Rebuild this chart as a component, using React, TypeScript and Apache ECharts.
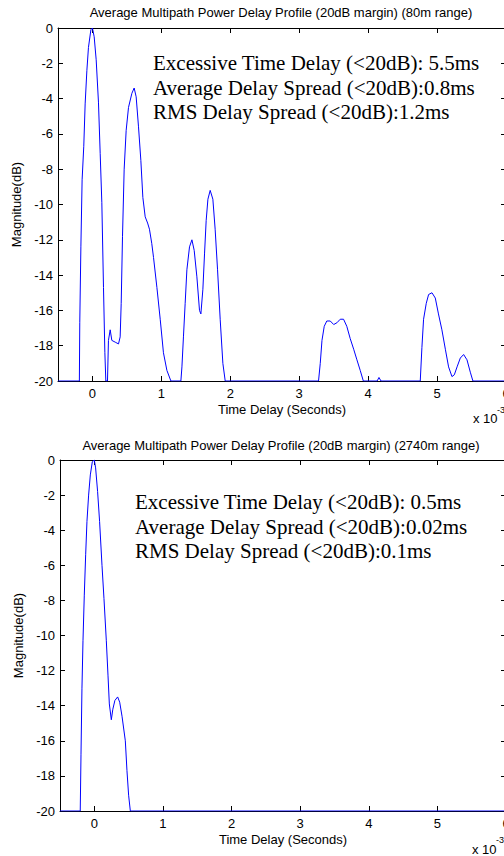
import React, { useEffect, useRef } from "react";
import * as echarts from "echarts";

// Tick values (x in units of 1e-3 s, y in dB)
const xTickValues = [0, 1, 2, 3, 4, 5, 6];
const yMin = -20;
const yMax = 0;
const yStep = 2;

const titles = [
  "Average Multipath Power Delay Profile (20dB margin) (80m range)",
  "Average Multipath Power Delay Profile (20dB margin) (2740m range)",
];
const xName = "Time Delay (Seconds)";
const yName = "Magnitude(dB)";

const notesTop = [
  "Excessive Time Delay (<20dB): 5.5ms",
  "Average Delay Spread (<20dB):0.8ms",
  "RMS Delay Spread (<20dB):1.2ms",
];
const notesBottom = [
  "Excessive Time Delay (<20dB): 0.5ms",
  "Average Delay Spread (<20dB):0.02ms",
  "RMS Delay Spread (<20dB):0.1ms",
];

// 80m range profile: [delay (x1e-3 s), magnitude dB]
const profile80m: [number, number][] = [
  [-0.5, -20], [-0.19, -20], [-0.184, -16.7], [-0.168, -12.4], [-0.15, -8.6], [-0.126, -6.7],
  [-0.106, -4.3], [-0.081, -2.4], [-0.058, -1.1], [-0.023, -0.1], [0, 0], [0.025, -0.5],
  [0.054, -1.8], [0.087, -4.2], [0.112, -7.1], [0.136, -9.9], [0.16, -14.7], [0.18, -18.4],
  [0.194, -20], [0.218, -20], [0.232, -17.7], [0.257, -17.1], [0.281, -17.7], [0.33, -17.8],
  [0.378, -17.9], [0.402, -17.5], [0.417, -15.6], [0.436, -11.8], [0.46, -8.0], [0.489, -5.8],
  [0.523, -4.5], [0.572, -3.7], [0.605, -3.4], [0.634, -3.9], [0.668, -5.6], [0.702, -7.5],
  [0.731, -9.6], [0.765, -10.7], [0.8, -11.05], [0.827, -11.4], [0.86, -12.2], [0.886, -13.0],
  [0.935, -14.7], [0.983, -16.5], [1.03, -18.4], [1.08, -19.4], [1.138, -20], [1.283, -20],
  [1.298, -19.2], [1.32, -17.5], [1.345, -15.6], [1.37, -13.7], [1.408, -12.4], [1.443, -12.0],
  [1.476, -12.6], [1.515, -14.1], [1.553, -16.0], [1.573, -16.2], [1.602, -14.8], [1.626, -12.8],
  [1.65, -10.9], [1.675, -9.7], [1.708, -9.2], [1.747, -9.7], [1.78, -11.4], [1.815, -13.7],
  [1.853, -16.5], [1.892, -19.0], [1.926, -20], [3.28, -20], [3.305, -19.0], [3.33, -17.7],
  [3.363, -16.9], [3.4, -16.6], [3.45, -16.6], [3.5, -16.8], [3.547, -16.7], [3.595, -16.5],
  [3.643, -16.5], [3.69, -16.9], [3.74, -17.6], [3.79, -18.2], [3.837, -18.8], [3.885, -19.4],
  [3.93, -20], [4.13, -20], [4.157, -19.8], [4.186, -20], [4.756, -20], [4.78, -18.1],
  [4.804, -16.5], [4.843, -15.6], [4.877, -15.1], [4.926, -15.0], [4.974, -15.3], [5.02, -16.2],
  [5.07, -17.1], [5.12, -18.2], [5.167, -19.2], [5.216, -19.75], [5.25, -19.65], [5.29, -19.2],
  [5.337, -18.7], [5.385, -18.5], [5.434, -18.8], [5.482, -19.5], [5.52, -20], [6, -20],
];

// 2740m range profile
const profile2740m: [number, number][] = [
  [-0.5, -20], [-0.205, -20], [-0.194, -16.8], [-0.18, -13.0], [-0.165, -10.3], [-0.146, -7.7],
  [-0.126, -5.4], [-0.107, -3.5], [-0.083, -2.0], [-0.058, -0.85], [-0.029, -0.1], [0, 0],
  [0.019, -0.45], [0.048, -1.8], [0.077, -3.5], [0.112, -6.0], [0.141, -7.9], [0.175, -10.3],
  [0.2, -12.3], [0.219, -13.9], [0.248, -14.8], [0.27, -14.2], [0.3, -13.7], [0.34, -13.5],
  [0.37, -13.8], [0.404, -14.6], [0.452, -16.0], [0.476, -17.7], [0.5, -19.1], [0.525, -20],
  [6, -20],
];

const SANS = "'Liberation Sans', Arial, sans-serif";
const SERIF = "'Liberation Serif', 'Times New Roman', serif";
const FS = 13;

export default function App() {
  const ref = useRef<HTMLDivElement>(null);
  useEffect(() => {
    if (!ref.current) return;
    const chart = echarts.init(ref.current, undefined, { renderer: "svg" });

    const grids = [
      { left: 58, top: 28, width: 448, height: 353, outerBoundsMode: "none", containLabel: false },
      { left: 60, top: 460, width: 446, height: 351, outerBoundsMode: "none", containLabel: false },
    ];

    const lineStyle = { color: "#000", width: 1 };
    const xAxes: any[] = [];
    const yAxes: any[] = [];
    grids.forEach((_, gi) => {
      xAxes.push({
        type: "value", gridIndex: gi, position: "bottom", min: -0.5, max: 6,
        name: xName, nameLocation: "middle", nameGap: 22,
        nameTextStyle: { fontFamily: SANS, fontSize: FS, color: "#000" },
        axisLine: { show: true, onZero: false, lineStyle },
        axisTick: { show: true, inside: true, length: 5, customValues: xTickValues, lineStyle },
        axisLabel: { show: true, customValues: xTickValues, margin: 6, fontFamily: SANS, fontSize: FS, color: "#000" },
        splitLine: { show: false },
      });
      xAxes.push({
        type: "value", gridIndex: gi, position: "top", min: -0.5, max: 6,
        axisLine: { show: true, onZero: false, lineStyle },
        axisTick: { show: true, inside: true, length: 5, customValues: xTickValues, lineStyle },
        axisLabel: { show: false },
        splitLine: { show: false },
      });
      yAxes.push({
        type: "value", gridIndex: gi, position: "left", min: yMin, max: yMax, interval: yStep,
        name: yName, nameLocation: "middle", nameGap: 34, nameRotate: 90,
        nameTextStyle: { fontFamily: SANS, fontSize: FS, color: "#000" },
        axisLine: { show: true, onZero: false, lineStyle },
        axisTick: { show: true, inside: true, length: 5, lineStyle },
        axisLabel: { show: true, margin: 5, fontFamily: SANS, fontSize: FS, color: "#000" },
        splitLine: { show: false },
      });
      yAxes.push({
        type: "value", gridIndex: gi, position: "right", min: yMin, max: yMax, interval: yStep,
        axisLine: { show: true, onZero: false, lineStyle },
        axisTick: { show: true, inside: true, length: 5, lineStyle },
        axisLabel: { show: false },
        splitLine: { show: false },
      });
    });

    const noteText = (lines: string[], x: number, y0: number) =>
      lines.map((t, i) => ({
        type: "text", x, y: y0 + i * 24.5,
        style: { text: t, fontFamily: SERIF, fontSize: 21, fill: "#000", textVerticalAlign: "middle" },
      }));

    const graphic: any[] = [
      { type: "text", x: 281, y: 12, style: { text: titles[0], fontFamily: SANS, fontSize: FS, fill: "#000", textAlign: "center", textVerticalAlign: "middle" } },
      { type: "text", x: 281, y: 445, style: { text: titles[1], fontFamily: SANS, fontSize: FS, fill: "#000", textAlign: "center", textVerticalAlign: "middle" } },
      ...noteText(notesTop, 153, 63),
      ...noteText(notesBottom, 135, 502),
      { type: "text", x: 473, y: 418, style: { text: "x 10", fontFamily: SANS, fontSize: FS, fill: "#000", textVerticalAlign: "middle" } },
      { type: "text", x: 497, y: 410, style: { text: "-3", fontFamily: SANS, fontSize: 9, fill: "#000", textVerticalAlign: "middle" } },
      { type: "text", x: 472, y: 849, style: { text: "x 10", fontFamily: SANS, fontSize: FS, fill: "#000", textVerticalAlign: "middle" } },
      { type: "text", x: 496, y: 840, style: { text: "-3", fontFamily: SANS, fontSize: 9, fill: "#000", textVerticalAlign: "middle" } },
    ];

    chart.setOption({
      animation: false,
      backgroundColor: "#fff",
      grid: grids,
      xAxis: xAxes,
      yAxis: yAxes,
      graphic,
      series: [
        { type: "line", xAxisIndex: 0, yAxisIndex: 0, data: profile80m, showSymbol: false, lineStyle: { color: "#0000ff", width: 1 }, z: 3 },
        { type: "line", xAxisIndex: 2, yAxisIndex: 2, data: profile2740m, showSymbol: false, lineStyle: { color: "#0000ff", width: 1 }, z: 3 },
      ],
    });
    return () => chart.dispose();
  }, []);
  return <div ref={ref} style={{ position: "absolute", left: 0, top: 0, width: 504, height: 856 }} />;
}
